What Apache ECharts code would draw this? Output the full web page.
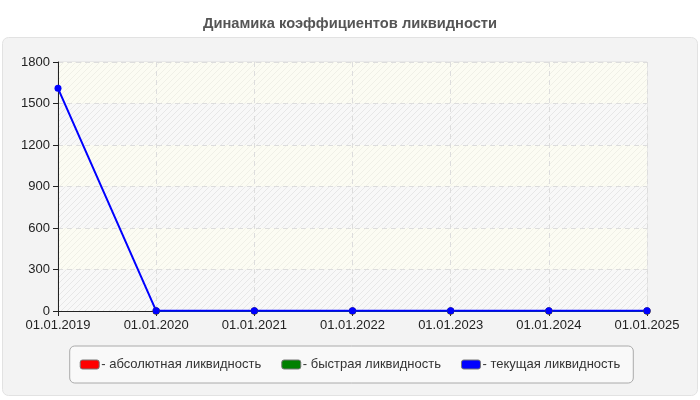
<!DOCTYPE html>
<html><head><meta charset="utf-8">
<script src="https://cdn.jsdelivr.net/npm/echarts@6/dist/echarts.min.js"></script>
<style>html,body{margin:0;padding:0;background:#fff}#c{width:700px;height:400px}</style>
</head><body><div id="c"></div>
<script>
var categories = ['01.01.2019','01.01.2020','01.01.2021','01.01.2022','01.01.2023','01.01.2024','01.01.2025'];
var absoluteLiquidity = [null, 0.1, 0.1, 0.1, 0.1, 0.1, 0.1];
var quickLiquidity = [null, 0.6, 0.6, 0.6, 0.6, 0.6, 0.6];
var currentLiquidity = [1610, 1.2, 1.2, 1.2, 1.2, 1.2, 1.2];
var seriesNames = ['абсолютная ликвидность','быстрая ликвидность','текущая ликвидность'];
var seriesColors = ['#ff0000','#008000','#0000ff'];

var FF = "'Liberation Sans', Arial, sans-serif";
function hatch(bg, line){
  var cv = document.createElement('canvas'); cv.width = 6; cv.height = 6;
  var x = cv.getContext('2d');
  x.fillStyle = bg; x.fillRect(0,0,6,6);
  x.strokeStyle = line; x.lineWidth = 1;
  x.beginPath(); x.moveTo(0,6); x.lineTo(6,0); x.moveTo(-3,3); x.lineTo(3,-3); x.moveTo(3,9); x.lineTo(9,3); x.stroke();
  return {image: cv, repeat: 'repeat'};
}

var chart = echarts.init(document.getElementById('c'), null, {renderer:'canvas'});
var dataSets = [absoluteLiquidity, quickLiquidity, currentLiquidity];
chart.setOption({
  animation: false,
  title: {text: 'Динамика коэффициентов ликвидности', left: 'center', top: 11,
    textStyle: {fontFamily: FF, fontSize: 14.7, fontWeight: 'bold', color: '#555'}},
  graphic: [{type: 'rect', z: -10, shape: {x: 2.5, y: 37.5, width: 695, height: 358, r: 6},
    style: {fill: '#f3f3f3', stroke: '#e2e2e2', lineWidth: 1}}],
  grid: {left: 58, right: 53, top: 62, bottom: 89, show: true, borderColor: '#dddddd', borderWidth: 1, backgroundColor: 'transparent'},
  legend: {bottom: 17, left: 'center', padding: [12, 13, 12, 10],
    backgroundColor: '#f9f9f9', borderColor: '#aaaaaa', borderWidth: 1, borderRadius: 5,
    itemWidth: 19, itemHeight: 9, itemGap: 20, icon: 'roundRect',
    formatter: function(n){ return '- ' + n; },
    textStyle: {fontFamily: FF, fontSize: 13, color: '#333', padding: [0,0,0,-3]},
    data: seriesNames.map(function(n,i){ return {name: n, itemStyle: {color: seriesColors[i], borderColor: '#777', borderWidth: 1}}; })},
  xAxis: {type: 'category', data: categories, boundaryGap: false,
    axisLine: {lineStyle: {color: '#222', width: 1}},
    axisTick: {show: true, alignWithLabel: true, length: 5, lineStyle: {color: '#222'}},
    axisLabel: {fontFamily: FF, fontSize: 13, color: '#222', margin: 8},
    splitLine: {show: true, lineStyle: {color: '#dddddd', type: [5, 4]}}},
  yAxis: {type: 'value', min: 0, max: 1800, interval: 300,
    axisLine: {show: true, lineStyle: {color: '#222', width: 1}},
    axisTick: {show: true, length: 5, lineStyle: {color: '#222'}},
    axisLabel: {fontFamily: FF, fontSize: 13, color: '#222', margin: 8, formatter: function(v){ return String(v); }},
    splitLine: {show: true, lineStyle: {color: '#dddddd', type: [5, 4]}},
    splitArea: {show: true, areaStyle: {color: [hatch('#f8f8f8', '#e7e7e7'), hatch('#fcfcf3', '#f0f0e7')]}}},
  series: dataSets.map(function(d, i){
    return {name: seriesNames[i], type: 'line', data: d, connectNulls: false,
      symbol: 'circle', symbolSize: 7, showSymbol: true,
      lineStyle: {color: seriesColors[i], width: 2}, itemStyle: {color: seriesColors[i]}};
  })
});
</script></body></html>
